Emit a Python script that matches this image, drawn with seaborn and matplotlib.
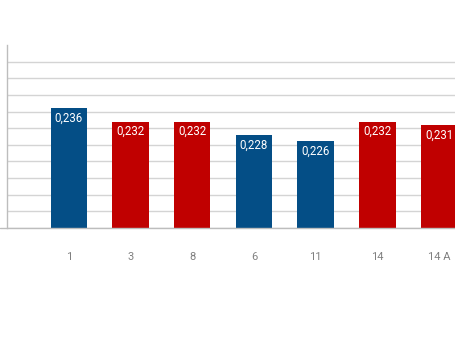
import matplotlib
matplotlib.use("Agg")
import matplotlib.pyplot as plt
import seaborn as sns
import pandas as pd

categories = ["1", "3", "8", "6", "11", "14", "14 A"]
values = [0.236, 0.232, 0.232, 0.228, 0.226, 0.232, 0.231]
groups = ["b", "r", "r", "b", "b", "r", "r"]
palette = {"b": "#044E86", "r": "#C00000"}

df = pd.DataFrame({"cat": categories, "val": values, "grp": groups})

sns.set_style("white")
plt.rcParams["font.family"] = ["Roboto", "DejaVu Sans"]

fig = plt.figure(figsize=(4.55, 3.41), dpi=100)
W, H = 455, 341
ax = fig.add_axes([7 / W, 113 / H, 448 / W, 183 / H])

step = 61.7
sns.barplot(data=df, x="cat", y="val", hue="grp", palette=palette,
            dodge=False, legend=False, width=36.4 / step, ax=ax, zorder=3,
            linewidth=0, saturation=1)

ax.set_ylim(0.2, 0.255)
ax.set_xlim(-(68.9 - 7) / step, (455 - 68.9) / step)
yt = [0.2 + 0.005 * i for i in range(11)]
ax.set_yticks(yt)
ax.yaxis.grid(True, color="#d4d4d4", linewidth=1, zorder=0)
ax.set_axisbelow(True)
ax.tick_params(axis="y", left=False, labelleft=False)
ax.tick_params(axis="x", bottom=False, colors="#808080", labelsize=8, pad=14)
ax.set_xlabel("")
ax.set_ylabel("")
for s in ["top", "right", "bottom"]:
    ax.spines[s].set_visible(False)
ax.spines["left"].set_color("#bdbdbd")
ax.spines["left"].set_linewidth(1)

ax.axhline(0.2, xmin=-7 / 448, xmax=1, color="#bdbdbd", linewidth=1,
           clip_on=False, zorder=4)

for i, v in enumerate(values):
    ax.text(i, v - 0.0011, f"{v:.3f}".replace(".", ","), ha="center", va="top",
            color="white", fontsize=8.3, zorder=5)

fig.savefig("out.png", dpi=100)
